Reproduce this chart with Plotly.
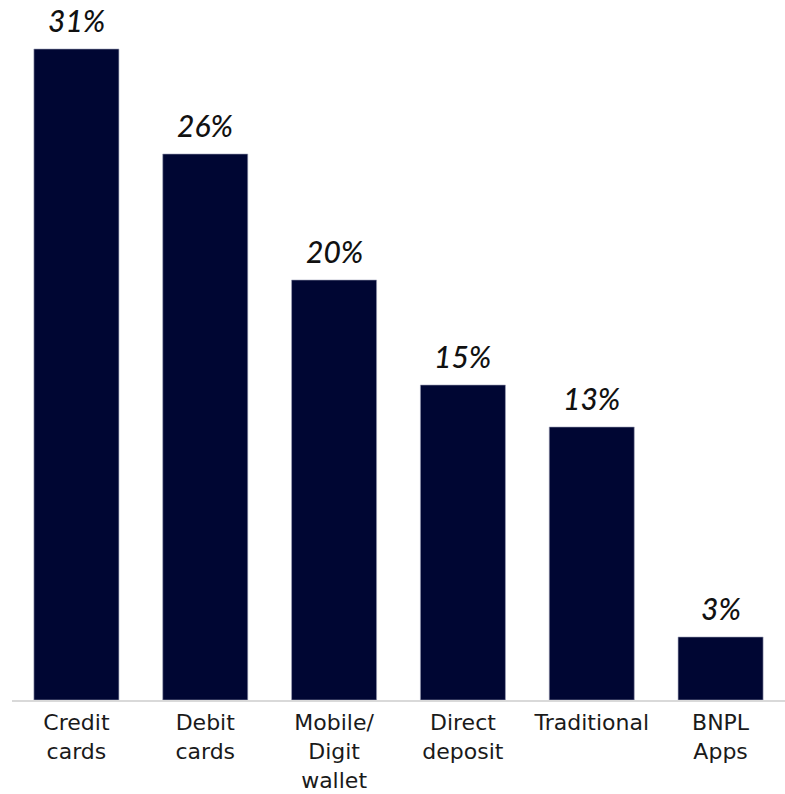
import plotly.graph_objects as go

categories = ["Credit<br>cards", "Debit<br>cards", "Mobile/<br>Digit<br>wallet",
              "Direct<br>deposit", "Traditional", "BNPL<br>Apps"]
shares = [31, 26, 20, 15, 13, 3]
labels = ["31%", "26%", "20%", "15%", "13%", "3%"]

NAVY = "#000633"

fig = go.Figure(
    go.Bar(
        x=categories,
        y=shares,
        marker=dict(color=NAVY, line=dict(color="#9fa3b8", width=0.6)),
        width=0.66,
        hoverinfo="skip",
    )
)

for cat, val, lab in zip(categories, shares, labels):
    fig.add_annotation(
        x=cat, y=val, text=lab, showarrow=False,
        yanchor="bottom", yshift=9,
        font=dict(family="Lato", size=30, color="#111111", style="italic", weight=500),
    )

fig.update_layout(
    width=785, height=794,
    margin=dict(l=12, r=0, t=0, b=94),
    paper_bgcolor="white", plot_bgcolor="white",
    showlegend=False,
    bargap=0.34,
)
fig.update_xaxes(
    showline=True, linecolor="#d9d9d9", linewidth=2,
    ticks="", showgrid=False, ticklabelstandoff=2,
    tickfont=dict(family="DejaVu Sans", size=22, color="#1a1a1a"),
)
fig.update_yaxes(
    range=[0, 700 / 21], visible=False, showgrid=False,
)

fig.write_html("out.html")
